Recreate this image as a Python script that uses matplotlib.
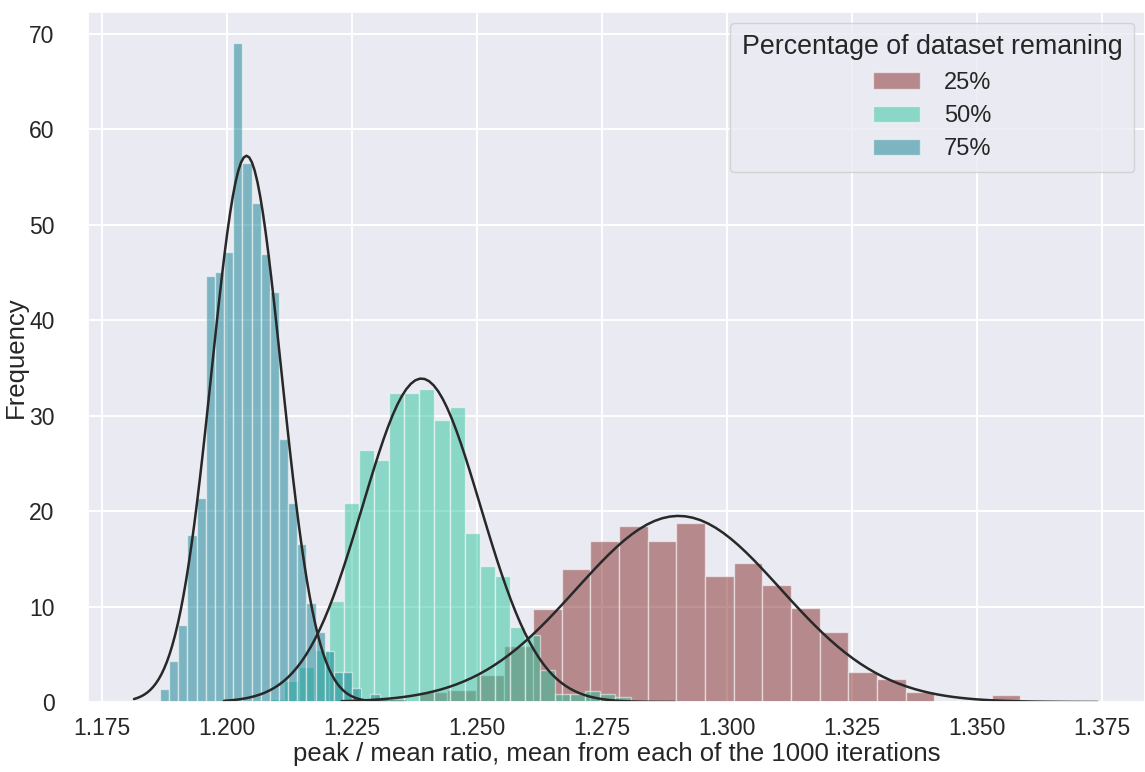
import numpy as np
import matplotlib
matplotlib.use('Agg')
import matplotlib.pyplot as plt
import seaborn as sns

# histogram heights (density), one list per subset
labels = ['25%', '50%', '75%']

start_25, width_25 = 1.2383, 0.00573
h_25 = [1.0, 1.3, 2.85, 5.85, 9.7, 13.9, 16.9, 18.4, 16.9, 18.8, 13.2,
        14.6, 12.3, 9.9, 7.3, 3.1, 2.4, 1.0, 0.0, 0.0, 0.7]

start_50, width_50 = 1.2083, 0.003017
h_50 = [0.33, 2.2, 3.7, 5.4, 10.6, 20.8, 26.4, 25.4, 32.4, 32.4, 32.8, 29.6,
        30.9, 17.7, 14.2, 13.2, 7.9, 7.0, 3.4, 0.8, 0.8, 1.2, 0.8, 0.5]

start_75, width_75 = 1.1866, 0.00183
h_75 = [1.4, 4.3, 8.1, 17.5, 21.4, 44.6, 45.1, 47.2, 69.0, 56.5, 52.3, 46.9,
        43.0, 27.6, 20.9, 16.6, 10.4, 7.3, 5.3, 3.1, 3.1, 1.5, 0.0, 0.8]

# normal fit of each subset: mean, std, and the span the curve is drawn over
fit_25 = (1.2903, 0.02046, 1.2229, 1.3741)
fit_50 = (1.2389, 0.01177, 1.1994, 1.2896)
fit_75 = (1.2039, 0.00697, 1.1814, 1.2357)

colors = ['#842a2a', '#2ec69e', '#108292']

sns.set_theme(style='darkgrid')
plt.rcParams['font.family'] = ['Liberation Sans', 'DejaVu Sans']

fig = plt.figure(figsize=(11.45, 7.72), dpi=100)
ax = fig.add_axes([88 / 1145, 70 / 772, 1057 / 1145, 690 / 772])

series = [(start_25, width_25, h_25, fit_25),
          (start_50, width_50, h_50, fit_50),
          (start_75, width_75, h_75, fit_75)]

for (start, width, heights, fit), lab, col in zip(series, labels, colors):
    edges = start + width * np.arange(len(heights) + 1)
    ax.hist(edges[:-1], bins=edges, weights=heights, color=col, alpha=0.5,
            edgecolor='white', linewidth=1, label=lab)

for (start, width, heights, fit) in series:
    mu, sd, x0, x1 = fit
    x = np.linspace(x0, x1, 100)
    y = np.exp(-0.5 * ((x - mu) / sd) ** 2) / (sd * np.sqrt(2 * np.pi))
    ax.plot(x, y, color='#282828', lw=1.8)

ax.set_xlim(1.1722, 1.3836)
ax.set_ylim(0, 72.3)
ax.set_xticks([1.175, 1.2, 1.225, 1.25, 1.275, 1.3, 1.325, 1.35, 1.375])
ax.set_yticks(range(0, 71, 10))
ax.tick_params(axis='both', labelsize=16.5, colors='#262626')
ax.tick_params(axis='y', pad=18)
ax.tick_params(axis='x', pad=5)
ax.grid(color='white', linewidth=1.4)

ax.set_xlabel('peak / mean ratio, mean from each of the 1000 iterations',
              fontsize=18.5, color='#262626', labelpad=1)
ax.set_ylabel('Frequency', fontsize=18.5, color='#262626', labelpad=1)

leg = ax.legend(title='Percentage of dataset remaning', loc='upper right',
                fontsize=17, title_fontsize=19.3, borderaxespad=0.45,
                labelspacing=0.48, borderpad=0.5, handletextpad=1.0,
                facecolor='#eaeaf2', edgecolor='#cccccc')

fig.savefig('out.png', dpi=100)
